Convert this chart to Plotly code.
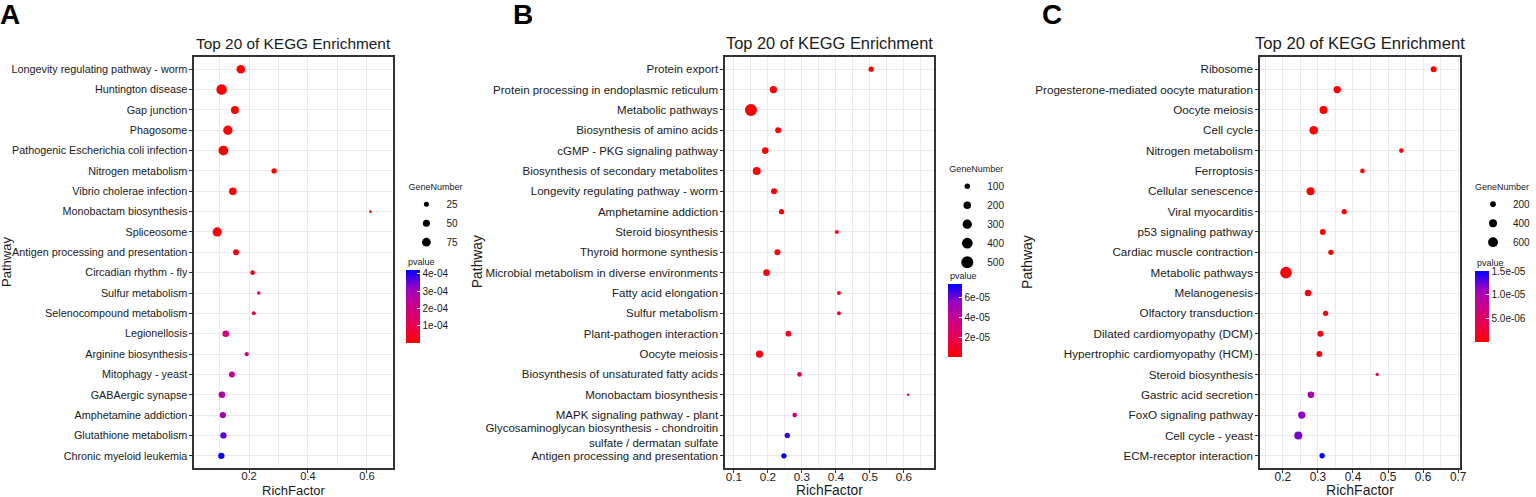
import math
import plotly.graph_objects as go

# ---- panel A ----
a_pathways = ["Longevity regulating pathway - worm", "Huntington disease", "Gap junction", "Phagosome",
              "Pathogenic Escherichia coli infection", "Nitrogen metabolism", "Vibrio cholerae infection",
              "Monobactam biosynthesis", "Spliceosome", "Antigen processing and presentation",
              "Circadian rhythm - fly", "Sulfur metabolism", "Selenocompound metabolism", "Legionellosis",
              "Arginine biosynthesis", "Mitophagy - yeast", "GABAergic synapse", "Amphetamine addiction",
              "Glutathione metabolism", "Chronic myeloid leukemia"]
a_rich = [0.172, 0.107, 0.152, 0.128, 0.113, 0.285, 0.145, 0.612, 0.092, 0.156,
          0.212, 0.233, 0.216, 0.121, 0.192, 0.142, 0.108, 0.111, 0.113, 0.106]
a_genes = [75, 110, 64, 87, 98, 28, 59, 7, 85, 36,
           22, 13, 16, 44, 19, 36, 44, 40, 40, 40]
a_pvalue = [1e-7, 1e-7, 1e-7, 1e-7, 1e-7, 2e-6, 5e-6, 1e-5, 1e-5, 3e-5,
            5e-5, 8e-5, 1.3e-4, 1.8e-4, 1.9e-4, 2.2e-4, 2.6e-4, 2.9e-4, 3.6e-4, 4.2e-4]

# ---- panel B ----
b_pathways = ["Protein export", "Protein processing in endoplasmic reticulum", "Metabolic pathways",
              "Biosynthesis of amino acids", "cGMP - PKG signaling pathway",
              "Biosynthesis of secondary metabolites", "Longevity regulating pathway - worm",
              "Amphetamine addiction", "Steroid biosynthesis", "Thyroid hormone synthesis",
              "Microbial metabolism in diverse environments", "Fatty acid elongation", "Sulfur metabolism",
              "Plant-pathogen interaction", "Oocyte meiosis", "Biosynthesis of unsaturated fatty acids",
              "Monobactam biosynthesis", "MAPK signaling pathway - plant",
              "Glycosaminoglycan biosynthesis - chondroitin<br>sulfate / dermatan sulfate",
              "Antigen processing and presentation"]
b_rich = [0.504, 0.216, 0.150, 0.230, 0.192, 0.167, 0.218, 0.240, 0.403, 0.228,
          0.196, 0.409, 0.409, 0.260, 0.175, 0.293, 0.613, 0.279, 0.257, 0.247]
b_genes = [98, 186, 500, 124, 153, 221, 124, 98, 55, 124,
           153, 55, 55, 111, 186, 75, 25, 75, 98, 98]
b_pvalue = [1e-7, 1e-7, 1e-7, 1e-7, 1e-7, 1e-7, 1e-6, 1e-6, 3e-6, 3e-6,
            3e-6, 5e-6, 5e-6, 8e-6, 5e-6, 2e-5, 2.5e-5, 3.5e-5, 6.6e-5, 7.3e-5]

# ---- panel C ----
c_pathways = ["Ribosome", "Progesterone-mediated oocyte maturation", "Oocyte meiosis", "Cell cycle",
              "Nitrogen metabolism", "Ferroptosis", "Cellular senescence", "Viral myocarditis",
              "p53 signaling pathway", "Cardiac muscle contraction", "Metabolic pathways", "Melanogenesis",
              "Olfactory transduction", "Dilated cardiomyopathy (DCM)", "Hypertrophic cardiomyopathy (HCM)",
              "Steroid biosynthesis", "Gastric acid secretion", "FoxO signaling pathway",
              "Cell cycle - yeast", "ECM-receptor interaction"]
c_rich = [0.630, 0.355, 0.316, 0.288, 0.538, 0.427, 0.279, 0.375, 0.314, 0.337,
          0.209, 0.272, 0.322, 0.307, 0.304, 0.469, 0.280, 0.254, 0.244, 0.312]
c_genes = [225, 336, 400, 469, 136, 136, 400, 178, 225, 178,
           850, 278, 178, 225, 225, 69, 278, 336, 400, 178]
c_pvalue = [1e-8, 1e-8, 1e-8, 1e-8, 1e-7, 1e-7, 1e-7, 2e-7, 3e-7, 5e-7,
            5e-7, 6e-7, 8e-7, 1e-6, 1e-6, 3e-6, 1.0e-5, 1.15e-5, 1.2e-5, 1.5e-5]

size_breaks = [[25, 50, 75], [100, 200, 300, 400, 500], [200, 400, 600]]
pv_ticks = [[1e-4, 2e-4, 3e-4, 4e-4], [2e-5, 4e-5, 6e-5], [5e-6, 1e-5, 1.5e-5]]
pv_text = [["1e-04", "2e-04", "3e-04", "4e-04"], ["2e-05", "4e-05", "6e-05"],
           ["5.0e-06", "1.0e-05", "1.5e-05"]]

W, H = 1536, 497
FONT = "Liberation Sans, Arial, sans-serif"
TXT = "#1a1a1a"
GRID = "#EBEBEB"
# red -> blue through Lab, like ggplot's gradient
scale = [[0, "rgb(255,0,0)"], [0.25, "rgb(232,0,80)"], [0.5, "rgb(202,0,137)"],
         [0.75, "rgb(154,0,195)"], [1, "rgb(0,0,255)"]]

# the three panels were pasted at slightly different scales (k)
panels = [
    dict(p=a_pathways, x=a_rich, g=a_genes, pv=a_pvalue, px=(195, 395), xr=[0.014, 0.69],
         dt=0.2, mdt=0.1, sref=2.0, cmax=4.23e-4, leg=(408, 178), cb=(408, 270, 73),
         letter="A", lx=10, ylab=6, k=1.0),
    dict(p=b_pathways, x=b_rich, g=b_genes, pv=b_pvalue, px=(728, 938), xr=[0.074, 0.69],
         dt=0.1, mdt=0.05, sref=6.9, cmax=7.3e-5, leg=(951, 160), cb=(952, 284, 73),
         letter="B", lx=525, ylab=479, k=1.065),
    dict(p=c_pathways, x=c_rich, g=c_genes, pv=c_pvalue, px=(1265, 1466), xr=[0.135, 0.706],
         dt=0.1, mdt=0.05, sref=12.5, cmax=1.5e-5, leg=(1479, 178), cb=(1481, 271, 71),
         letter="C", lx=1056, ylab=1031, k=1.08),
]

top, bottom = 57, 468
fig = go.Figure()
layout = dict(width=W, height=H, margin=dict(l=0, r=0, t=0, b=0),
              paper_bgcolor="white", plot_bgcolor="white",
              font=dict(family=FONT, color=TXT), annotations=[])

for i, pn in enumerate(panels):
    n = "" if i == 0 else str(i + 1)
    xa, ya = "x" + n, "y" + n
    ca = "coloraxis" + n
    lg = "legend" + n
    k = pn["k"]

    fig.add_trace(go.Scatter(
        x=pn["x"], y=pn["p"], mode="markers", xaxis=xa, yaxis=ya, showlegend=False,
        marker=dict(size=pn["g"], sizemode="area", sizeref=pn["sref"], color=pn["pv"],
                    coloraxis=ca, line=dict(width=0), opacity=1)))

    for v in size_breaks[i]:
        fig.add_trace(go.Scatter(
            x=[None], y=[None], mode="markers", xaxis=xa, yaxis=ya, name=str(v), legend=lg,
            marker=dict(size=math.sqrt(2 * v / pn["sref"]), color="black", line=dict(width=0))))

    x0, x1 = pn["px"]
    layout["xaxis" + n] = dict(
        domain=[x0 / W, x1 / W], anchor=ya, range=pn["xr"], tick0=0, dtick=pn["dt"],
        showgrid=True, gridcolor=GRID, gridwidth=1, zeroline=False,
        minor=dict(tick0=0, dtick=pn["mdt"], showgrid=True, gridcolor=GRID, gridwidth=0.6),
        showline=True, mirror=True, linecolor="#333333", linewidth=1.5,
        ticks="outside", ticklen=3, tickcolor="#333333", ticklabelstandoff=-6,
        tickfont=dict(size=11 * k, color=TXT))
    layout["yaxis" + n] = dict(
        domain=[(H - bottom) / H, (H - top) / H], anchor=xa, type="category",
        categoryorder="array", categoryarray=list(reversed(pn["p"])), range=[-0.6, 19.6],
        showgrid=True, gridcolor=GRID, gridwidth=1, zeroline=False,
        showline=True, mirror=True, linecolor="#333333", linewidth=1.5,
        ticks="outside", ticklen=3, tickcolor="#333333", tickfont=dict(size=10.8 * k, color=TXT))

    lx, ly = pn["leg"]
    layout[lg] = dict(
        x=lx / W, y=(H - ly) / H, xanchor="left", yanchor="top", itemsizing="trace",
        title=dict(text="GeneNumber", font=dict(size=9)), font=dict(size=10, color=TXT),
        bgcolor="rgba(0,0,0,0)", itemwidth=30, tracegroupgap=0)

    cbx, cby, cbl = pn["cb"]
    layout[ca] = dict(
        cmin=0, cmax=pn["cmax"], colorscale=scale,
        colorbar=dict(x=cbx / W, xanchor="left", y=(H - cby) / H, yanchor="top",
                      len=cbl, lenmode="pixels", thickness=14, outlinewidth=0,
                      xpad=0, ypad=0, title=dict(text=""),
                      tickvals=pv_ticks[i], ticktext=pv_text[i], ticks="inside",
                      tickcolor="white", ticklen=3, tickfont=dict(size=10, color=TXT)))

    cx = (x0 + x1) / 2 / W
    layout["annotations"] += [
        dict(text="Top 20 of KEGG Enrichment", x=cx, y=(H - 43) / H, xref="paper", yref="paper",
             showarrow=False, font=dict(size=15.4 * k, color=TXT), xanchor="center",
             yanchor="middle"),
        dict(text="RichFactor", x=cx, y=(H - 490) / H, xref="paper", yref="paper",
             showarrow=False, font=dict(size=13 * k, color=TXT), xanchor="center",
             yanchor="middle"),
        dict(text="Pathway", x=pn["ylab"] / W, y=(H - 262) / H, xref="paper", yref="paper",
             textangle=-90, showarrow=False, font=dict(size=13 * k, color=TXT),
             xanchor="center", yanchor="middle"),
        dict(text="<b>" + pn["letter"] + "</b>", x=pn["lx"] / W, y=(H - 15) / H, xref="paper",
             yref="paper", showarrow=False, font=dict(size=28, color="black"),
             xanchor="center", yanchor="middle"),
        dict(text="pvalue", x=cbx / W, y=(H - cby + 1) / H, xref="paper", yref="paper",
             showarrow=False, font=dict(size=9, color=TXT), xanchor="left", yanchor="bottom"),
    ]

fig.update_layout(**layout)
# page body margin would shift the fixed-size figure, so drop it
fig.write_html("out.html", config={"displayModeBar": False},
               post_script="document.body.style.margin='0';")
